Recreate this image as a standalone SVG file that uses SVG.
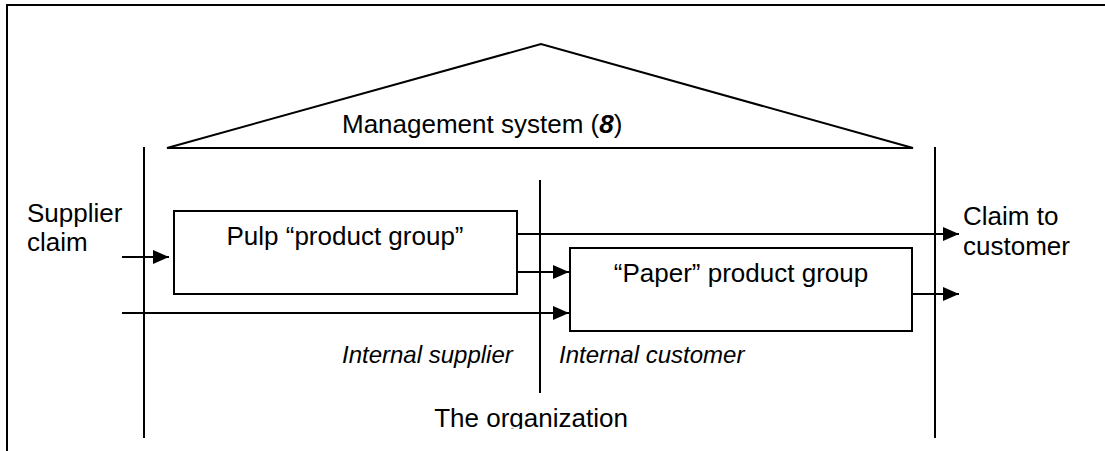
<svg xmlns="http://www.w3.org/2000/svg" width="1105" height="451" viewBox="0 0 1105 451">
  <style>
    .ln { stroke: #000; stroke-width: 2; fill: none; }
    .box { stroke: #000; stroke-width: 2; fill: #fff; }
    .t { font-family: "Liberation Sans", Arial, sans-serif; font-size: 26px; fill: #000; }
    .it { font-family: "Liberation Sans", Arial, sans-serif; font-size: 24px; font-style: italic; fill: #000; }
  </style>
  <defs>
    <marker id="arr" markerUnits="userSpaceOnUse" markerWidth="16" markerHeight="14" refX="16" refY="7" orient="auto">
      <path d="M0,0 L16,7 L0,14 Z" fill="#000"/>
    </marker>
    <clipPath id="clipBottom">
      <rect x="0" y="0" width="1105" height="429"/>
    </clipPath>
  </defs>
  <rect width="1105" height="451" fill="#fff"/>

  <g id="frame">
    <path class="ln" d="M7,451 L7,5 L1105,5" stroke-width="2.5"/>
  </g>

  <g id="management-system">
    <polygon class="ln" points="167,148 541,44 913,148"/>
    <text class="t" x="342" y="133">Management system (<tspan font-weight="bold" font-style="italic">8</tspan>)</text>
  </g>

  <g id="organization">
    <line class="ln" x1="144" y1="147" x2="144" y2="438"/>
    <line class="ln" x1="935" y1="147" x2="935" y2="438"/>
    <line class="ln" x1="540" y1="180" x2="540" y2="393"/>
    <text class="t" x="531" y="427" text-anchor="middle" clip-path="url(#clipBottom)">The organization</text>
  </g>

  <g id="supplier-claim">
    <text class="t" x="27" y="222">Supplier</text>
    <text class="t" x="27" y="251">claim</text>
  </g>

  <g id="claim-to-customer">
    <text class="t" x="963" y="225">Claim to</text>
    <text class="t" x="963" y="255">customer</text>
  </g>

  <g id="pulp">
    <rect class="box" x="174" y="211" width="343" height="83"/>
    <text class="t" x="345" y="245" text-anchor="middle">Pulp “product group”</text>
  </g>

  <g id="paper">
    <rect class="box" x="570" y="248" width="342" height="83"/>
    <text class="t" x="741" y="282" text-anchor="middle">“Paper” product group</text>
  </g>

  <g id="internal-supplier">
    <text class="it" x="342" y="363">Internal supplier</text>
  </g>
  <g id="internal-customer">
    <text class="it" x="559" y="363">Internal customer</text>
  </g>

  <g id="connectors">
    <line class="ln" x1="122" y1="257" x2="169" y2="257" marker-end="url(#arr)"/>
    <line class="ln" x1="122" y1="313" x2="569" y2="313" marker-end="url(#arr)"/>
    <line class="ln" x1="517" y1="272" x2="569" y2="272" marker-end="url(#arr)"/>
    <line class="ln" x1="517" y1="234" x2="959" y2="234" marker-end="url(#arr)"/>
    <line class="ln" x1="912" y1="294" x2="959" y2="294" marker-end="url(#arr)"/>
  </g>
</svg>
